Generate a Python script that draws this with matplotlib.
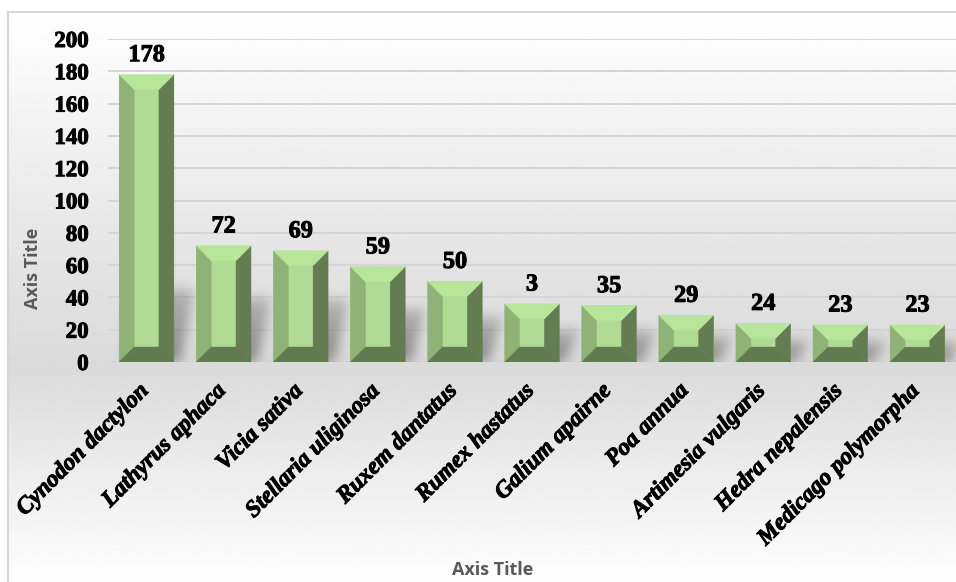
import numpy as np
import matplotlib
matplotlib.use("Agg")
import matplotlib.pyplot as plt
import matplotlib.transforms as mtransforms
import matplotlib.patheffects as pe
from matplotlib.patches import Polygon

# ---- data ----
species = ["Cynodon dactylon", "Lathyrus aphaca", "Vicia sativa",
           "Stellaria uliginosa", "Ruxem dantatus", "Rumex hastatus",
           "Galium apairne", "Poa annua", "Artimesia vulgaris",
           "Hedra nepalensis", "Medicago polymorpha"]
counts = [178, 72, 69, 59, 50, 36, 35, 29, 24, 23, 23]
value_labels = ["178", "72", "69", "59", "50", "3", "35", "29", "24", "23", "23"]
y_ticks = [0, 20, 40, 60, 80, 100, 120, 140, 160, 180, 200]

W, H, DPI = 956, 582, 100
fig = plt.figure(figsize=(W / DPI, H / DPI), dpi=DPI)
fig.patch.set_facecolor("white")

# ---- chart area background: vertical grey gradient inside a thin frame ----
bg = fig.add_axes([8 / W, 0, (W - 8) / W, (H - 12) / H])
ys = np.linspace(0, 1, 400)  # 0 = bottom, 1 = top
mid = (H - 370) / (H - 12)
shade = np.where(ys >= mid,
                 0.855 + (1.0 - 0.855) * ((ys - mid) / (1 - mid)) ** 1.1,
                 0.855 + (0.995 - 0.855) * ((mid - ys) / mid) ** 0.9)
grad = np.repeat(shade[:, None], 2, axis=1)
bg.imshow(grad, cmap="gray", vmin=0, vmax=1, aspect="auto", origin="lower",
          extent=(0, 1, 0, 1), interpolation="bilinear")
bg.set_xlim(0, 1)
bg.set_ylim(0, 1)
bg.set_xticks([])
bg.set_yticks([])
for side in ("right", "bottom"):
    bg.spines[side].set_visible(False)
for side in ("left", "top"):
    bg.spines[side].set_color("#d6d6d6")
    bg.spines[side].set_linewidth(1.5)

# ---- plot axes ----
left, right = 108, 956
top, base = 39, 362
ax = fig.add_axes([left / W, (H - base) / H, (right - left) / W, (base - top) / H])
ax.patch.set_alpha(0)
ax.set_xlim(-0.5, len(species) - 0.5)
ax.set_ylim(0, 200)
ax.set_yticks(y_ticks)
ax.set_xticks(range(len(species)))
for s in ax.spines.values():
    s.set_visible(False)
ax.tick_params(length=0)
ax.yaxis.grid(True, color="#d5d5d5", linewidth=1.4, zorder=0)
ax.set_axisbelow(True)

heavy = [pe.withStroke(linewidth=0.7, foreground="black")]
serif_bold = dict(family="Liberation Serif", weight="bold")
ax.set_yticklabels([str(t) for t in y_ticks], fontsize=16.5, **serif_bold)
ax.tick_params(axis="y", pad=14)
ax.set_xticklabels(species, rotation=45, ha="right", va="top",
                   rotation_mode="anchor", fontsize=17, style="italic",
                   **serif_bold)
ax.tick_params(axis="x", pad=10)
nudge = mtransforms.ScaledTranslation(-8 / DPI, -4 / DPI, fig.dpi_scale_trans)
for lbl in ax.get_xticklabels():
    lbl.set_transform(lbl.get_transform() + nudge)
    lbl.set_path_effects(heavy)
for lbl in ax.get_yticklabels():
    lbl.set_path_effects(heavy)

# ---- soft shadows behind the bars ----
bar_w = 0.71
px_w, px_h = right - left, base - top
xs_grid = np.linspace(-0.5, len(species) - 0.5, px_w)
ys_grid = np.linspace(0, 200, px_h)
XX, YY = np.meshgrid(xs_grid, ys_grid)
mask = np.zeros_like(XX)
for i, v in enumerate(counts):
    sh = min(0.55 * v, 45.0)
    shift = 0.18 * (YY / max(sh, 1e-6))
    inside = ((YY <= sh) & (XX >= i - bar_w / 2 + 0.08 + shift)
              & (XX <= i + bar_w / 2 + 0.08 + shift))
    mask = np.maximum(mask, inside.astype(float) * (1 - 0.5 * YY / max(sh, 1e-6)))
sig = 6.0
kx = np.arange(-18, 19)
kern = np.exp(-kx ** 2 / (2 * sig ** 2))
kern /= kern.sum()
blur = np.apply_along_axis(lambda r: np.convolve(r, kern, mode="same"), 1, mask)
blur = np.apply_along_axis(lambda c: np.convolve(c, kern, mode="same"), 0, blur)
rgba = np.zeros(blur.shape + (4,))
rgba[..., :3] = 0.25
rgba[..., 3] = np.clip(blur * 0.55, 0, 1)
ax.imshow(rgba, extent=(-0.5, len(species) - 0.5, 0, 200), origin="lower",
          aspect="auto", zorder=1, interpolation="bilinear")
ax.set_xlim(-0.5, len(species) - 0.5)
ax.set_ylim(0, 200)

# ---- bevelled bars ----
face_c, top_c = "#b0db94", "#b7e59a"
left_c, right_c, bottom_c = "#8fb377", "#647c52", "#627a50"
bars = ax.bar(range(len(species)), counts, width=bar_w, color=face_c,
              edgecolor="none", zorder=2)
dx_max = 15 / (px_w / len(species))
dy_max = 15 / (px_h / 200)
for rect in bars:
    x0, w, h = rect.get_x(), rect.get_width(), rect.get_height()
    x1 = x0 + w
    dx = min(dx_max, w * 0.4)
    dy = min(dy_max, h * 0.4)
    polys = [
        ([(x0, 0), (x0 + dx, dy), (x0 + dx, h - dy), (x0, h)], left_c),
        ([(x1, 0), (x1, h), (x1 - dx, h - dy), (x1 - dx, dy)], right_c),
        ([(x0, h), (x1, h), (x1 - dx, h - dy), (x0 + dx, h - dy)], top_c),
        ([(x0, 0), (x1, 0), (x1 - dx, dy), (x0 + dx, dy)], bottom_c),
    ]
    for pts, c in polys:
        ax.add_patch(Polygon(pts, closed=True, facecolor=c, edgecolor=c,
                             linewidth=0.3, zorder=3))

# ---- value labels ----
for rect, lab in zip(bars, value_labels):
    t = ax.annotate(lab, (rect.get_x() + rect.get_width() / 2, rect.get_height()),
                    xytext=(0, 6), textcoords="offset points", ha="center",
                    va="bottom", fontsize=17.5, zorder=4, **serif_bold)
    t.set_path_effects(heavy)

# ---- axis titles ----
title_font = dict(family="Open Sans", weight="bold", color="#595959", fontsize=13)
fig.text(493 / W, 1 - 570 / H, "Axis Title", ha="center", va="center", **title_font)
fig.text(33 / W, 1 - 268 / H, "Axis Title", ha="center", va="center",
         rotation=90, **title_font)

fig.savefig("out.png", dpi=DPI)
